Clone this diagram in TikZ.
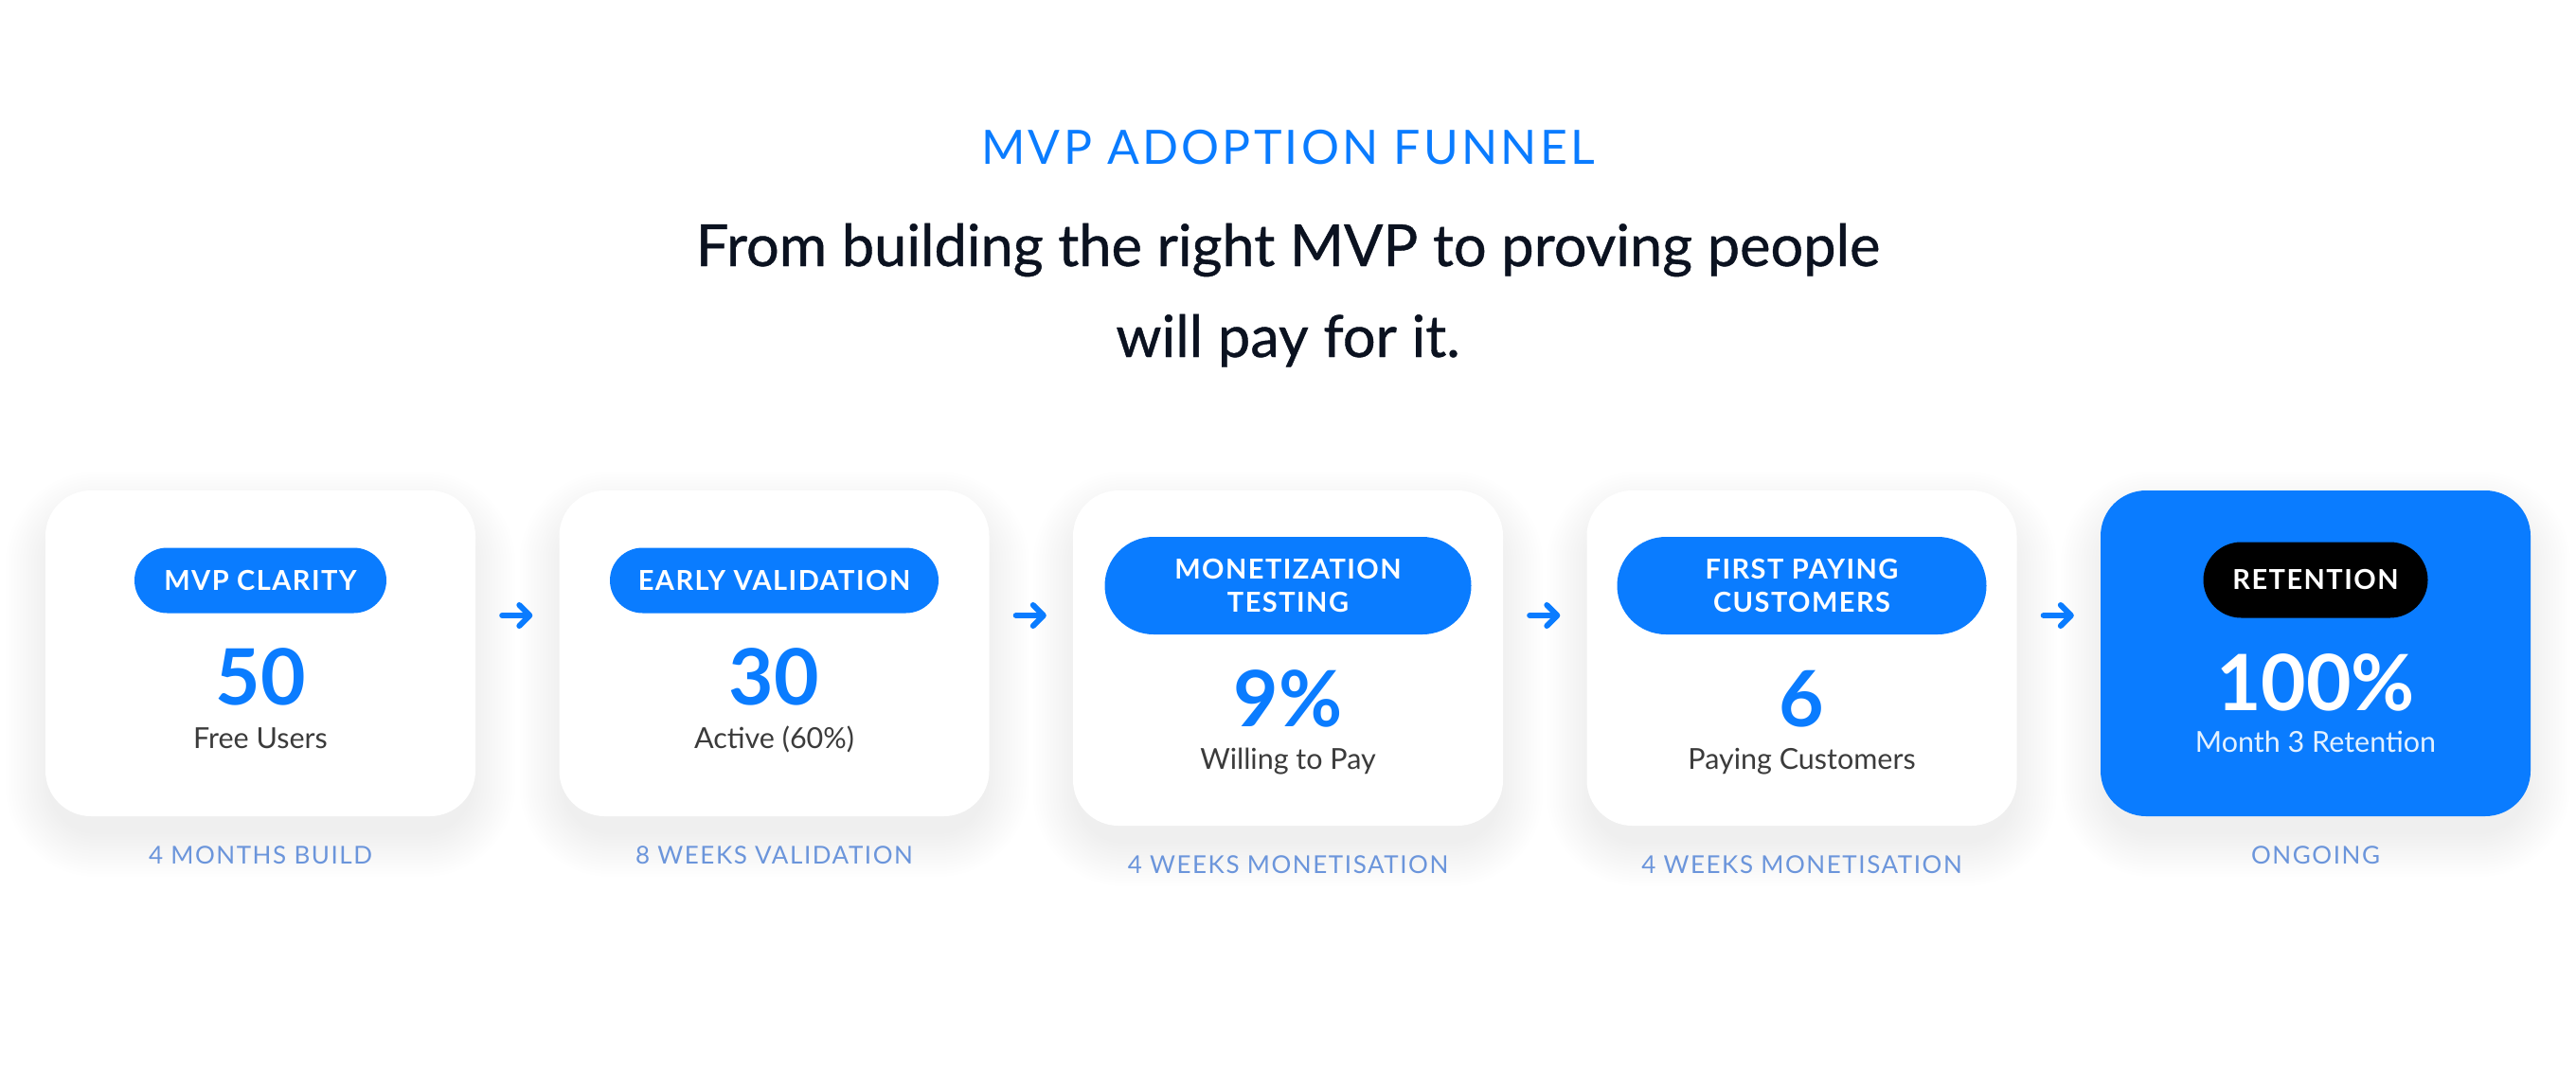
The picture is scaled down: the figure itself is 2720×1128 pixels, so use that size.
\documentclass[tikz,border=0pt]{standalone}
\usepackage{fontspec}
\setmainfont{Lato}
\newfontfamily\titlefont[LetterSpace=6.5]{Lato}
\newfontfamily\subfont[FakeBold=0.7]{Lato}
\newfontfamily\pillfont[LetterSpace=5]{Lato}
\newfontfamily\capfont[LetterSpace=6]{Lato}
\usetikzlibrary{arrows.meta}
\definecolor{mblue}{HTML}{0A7CFF}
\definecolor{subdark}{HTML}{0B1220}
\definecolor{labgray}{HTML}{3B3B3B}
\definecolor{capblue}{HTML}{6B95DB}
\definecolor{lightlab}{HTML}{E3F1FF}
\definecolor{shadowcol}{HTML}{475569}
\newcommand\softshadow[4]{%
  \foreach \k in {1,...,16}{%
    \pgfmathsetmacro\e{3*\k-6}%
    \pgfmathsetmacro\rr{48+3*\k}%
    \fill[shadowcol, opacity=0.0055, rounded corners=\rr pt]
      ({#1-#3/2-\e},{#2-#4/2-\e+22}) rectangle ({#1+#3/2+\e},{#2+#4/2+\e+22});
  }%
}
\begin{document}
\begin{tikzpicture}[x=1pt,y=-1pt,
  box/.style={rounded corners=48pt, fill=white, minimum width=454pt, inner sep=0pt},
  pill/.style={fill=mblue, text=white, inner sep=0pt, font=\pillfont\bfseries\fontsize{29}{35}\selectfont, align=center},
  num/.style={anchor=base, text=mblue, font=\bfseries\fontsize{82}{90}\selectfont, inner sep=0pt},
  lab/.style={anchor=base, text=labgray, font=\fontsize{30.5}{36}\selectfont, inner sep=0pt},
  capt/.style={anchor=base, text=capblue, font=\capfont\fontsize{26}{30}\selectfont, inner sep=0pt},
  flow/.style={draw=mblue, line width=6pt, line cap=round, -{Straight Barb[length=11pt,width=22pt,line cap=round,line join=round]}, shorten <=28pt, shorten >=28pt}
]
\path[use as bounding box, fill=white] (0,0) rectangle (2720,1128);

% title
\node[anchor=base, inner sep=0pt, text=mblue, font=\titlefont\fontsize{50}{60}\selectfont] (title) at (1360,173) {MVP ADOPTION FUNNEL};
\node[anchor=base, inner sep=0pt, text=subdark, font=\subfont\fontsize{61.3}{96}\selectfont] (sub1) at (1360,281) {From building the right MVP to proving people};
\node[anchor=base, inner sep=0pt, text=subdark, font=\subfont\fontsize{61.3}{96}\selectfont] (sub2) at (1360,377) {will pay for it.};

% shadows
\softshadow{275}{690}{454}{344}
\softshadow{817.5}{690}{454}{344}
\softshadow{1360}{695}{454}{354}
\softshadow{1902.5}{695}{454}{354}
\softshadow{2445}{690}{454}{344}

% boxes
\node[box, minimum height=344pt] (b1) at (275,690) {};
\node[box, minimum height=344pt] (b2) at (817.5,690) {};
\node[box, minimum height=354pt] (b3) at (1360,695) {};
\node[box, minimum height=354pt] (b4) at (1902.5,695) {};
\node[box, minimum height=344pt, fill=mblue] (b5) at (2445,690) {};

% pills
\node[pill, minimum width=266pt, minimum height=69pt, rounded corners=34.5pt] (p1) at (275,613) {MVP CLARITY};
\node[pill, minimum width=347pt, minimum height=69pt, rounded corners=34.5pt] (p2) at (817.5,613) {EARLY VALIDATION};
\node[pill, minimum width=387pt, minimum height=103pt, rounded corners=51.5pt] (p3) at (1360,618.5) {MONETIZATION\\TESTING};
\node[pill, minimum width=390pt, minimum height=103pt, rounded corners=51.5pt] (p4) at (1902.5,618.5) {FIRST PAYING\\CUSTOMERS};
\node[pill, fill=black, minimum width=237pt, minimum height=80pt, rounded corners=40pt] (p5) at (2445,612.5) {RETENTION};

% numbers
\node[num] (n1) at (275,744) {50};
\node[num] (n2) at (817.5,744) {30};
\node[num] (n3) at (1360,767) {9\%};
\node[num] (n4) at (1902.5,767) {6};
\node[num, text=white] (n5) at (2445,750) {100\%};

% labels
\node[lab] (l1) at (275,790) {Free Users};
\node[lab] (l2) at (817.5,790) {Active (60\%)};
\node[lab] (l3) at (1360,812) {Willing to Pay};
\node[lab] (l4) at (1902.5,812) {Paying Customers};
\node[lab, text=lightlab] (l5) at (2445,794) {Month 3 Retention};

% captions
\node[capt] (c1) at (275,912) {4 MONTHS BUILD};
\node[capt] (c2) at (817.5,912) {8 WEEKS VALIDATION};
\node[capt] (c3) at (1360,922) {4 WEEKS MONETISATION};
\node[capt] (c4) at (1902.5,922) {4 WEEKS MONETISATION};
\node[capt] (c5) at (2445,912) {ONGOING};

% arrows
\coordinate (ay) at (0,650);
\draw[flow] (b1.east |- ay) -- (b2.west |- ay);
\draw[flow] (b2.east |- ay) -- (b3.west |- ay);
\draw[flow] (b3.east |- ay) -- (b4.west |- ay);
\draw[flow] (b4.east |- ay) -- (b5.west |- ay);
\end{tikzpicture}
\end{document}
